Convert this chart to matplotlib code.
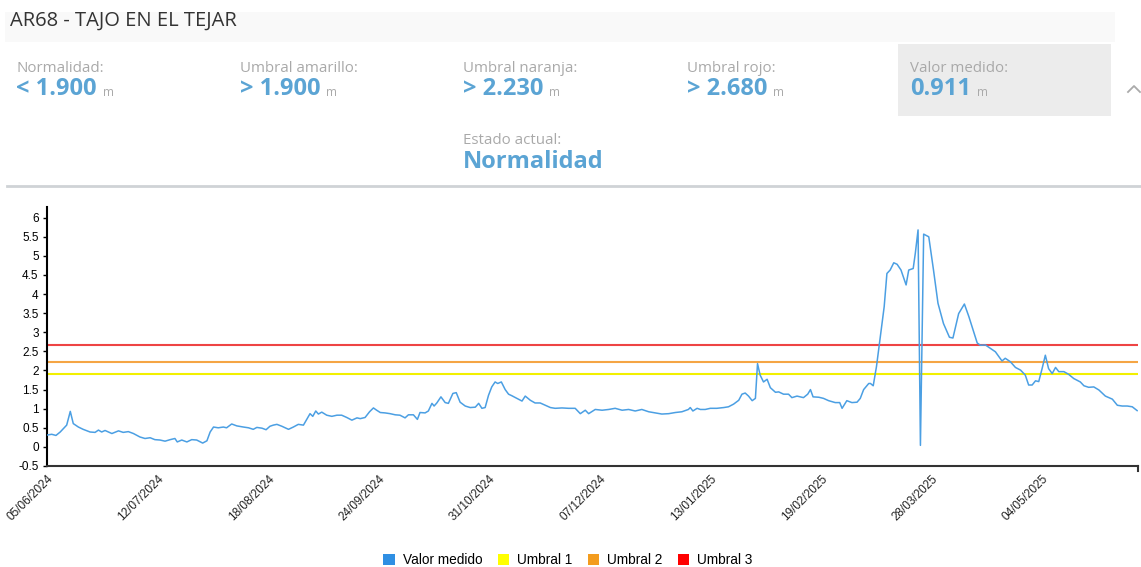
import matplotlib
matplotlib.use("Agg")
import matplotlib.pyplot as plt
from matplotlib.patches import Rectangle, Patch
from matplotlib.lines import Line2D
import numpy as np
import datetime as dt

# ---------------- data ----------------
start_date = "2024-06-05"
end_date = "2025-06-05"
tick_dates = ["05/06/2024", "12/07/2024", "18/08/2024", "24/09/2024", "31/10/2024",
              "07/12/2024", "13/01/2025", "19/02/2025", "28/03/2025", "04/05/2025"]

# day offsets since start_date, and measured values (m)
days = [0.0, 1.6, 3.0, 4.4, 6.6, 7.8, 8.8, 10.5, 12.1, 14.4, 16.1, 17.2, 18.3, 19.4, 21.7,
        23.9, 25.5, 27.2, 28.9, 31.1, 32.8, 34.5, 36.1, 37.8, 39.5, 41.2, 42.8, 43.6, 45.1,
        46.8, 48.4, 50.1, 52.1, 53.5, 54.6, 55.7, 57.3, 59.0, 60.1, 61.8, 63.5, 65.7, 67.4,
        69.0, 70.2, 71.9, 73.3, 74.6, 75.7, 76.9, 78.6, 80.8, 82.4, 84.1, 85.8, 86.9, 88.0,
        88.9, 89.9, 90.8, 91.9, 93.6, 95.3, 97.0, 98.6, 100.3, 102.0, 103.7, 104.8, 106.4,
        107.9, 109.2, 110.3, 111.5, 113.1, 114.8, 116.5, 118.1, 119.8, 120.9, 122.6, 123.9,
        124.8, 126.5, 127.6, 128.8, 129.5, 130.4, 131.8, 133.2, 134.3, 135.8, 136.9, 138.2,
        139.9, 141.6, 143.3, 144.4, 145.5, 146.6, 147.7, 148.8, 149.9, 150.8, 152.0, 153.3,
        154.4, 155.5, 157.2, 158.9, 160.0, 161.7, 163.3, 165.0, 166.7, 168.4, 170.0, 172.3,
        174.5, 176.7, 178.4, 180.1, 181.2, 183.4, 185.7, 187.9, 190.1, 192.4, 194.6, 196.8,
        199.0, 201.3, 203.5, 205.7, 208.0, 210.2, 212.4, 214.6, 215.2, 216.1, 217.5, 218.6,
        220.2, 221.9, 224.1, 226.4, 228.0, 229.7, 231.4, 232.5, 233.6, 234.7, 235.9, 237.0,
        237.7, 238.6, 239.7, 240.9, 242.0, 243.7, 244.8, 246.4, 248.1, 249.2, 250.9, 253.1,
        254.5, 255.4, 256.3, 258.2, 259.8, 261.5, 263.7, 265.2, 266.0, 267.6, 269.3, 271.0,
        272.1, 273.2, 274.9, 275.5, 276.4, 277.5, 278.8, 280.1, 281.0, 282.1, 283.3, 284.4,
        285.7, 287.4, 288.3, 289.8, 290.5, 291.4, 292.2, 293.3, 295.0, 296.6, 298.1, 299.9,
        301.9, 303.1, 305.0, 306.9, 308.4, 309.5, 311.2, 312.3, 313.9, 315.6, 317.3, 319.5,
        320.6, 322.3, 324.0, 325.7, 327.3, 328.4, 329.6, 330.7, 331.8, 332.9, 334.0, 335.1,
        336.3, 337.4, 338.5, 340.2, 341.8, 343.5, 345.7, 346.9, 348.5, 350.2, 351.9, 354.1,
        356.4, 358.1, 359.7, 361.4, 363.1, 364.7]
values = [0.31, 0.33, 0.30, 0.39, 0.57, 0.93, 0.61, 0.52, 0.46, 0.39, 0.38, 0.44, 0.39, 0.43, 0.35,
          0.42, 0.38, 0.40, 0.35, 0.26, 0.22, 0.24, 0.19, 0.18, 0.15, 0.19, 0.22, 0.13, 0.18,
          0.13, 0.19, 0.18, 0.10, 0.16, 0.39, 0.52, 0.50, 0.52, 0.50, 0.60, 0.55, 0.52, 0.50,
          0.46, 0.51, 0.49, 0.45, 0.54, 0.57, 0.59, 0.54, 0.46, 0.52, 0.59, 0.57, 0.72, 0.87,
          0.80, 0.94, 0.86, 0.91, 0.83, 0.80, 0.83, 0.83, 0.77, 0.70, 0.76, 0.74, 0.77,
          0.92, 1.02, 0.96, 0.90, 0.89, 0.87, 0.84, 0.83, 0.76, 0.84, 0.84, 0.72,
          0.90, 0.89, 0.94, 1.14, 1.07, 1.15, 1.31, 1.16, 1.14, 1.40, 1.42, 1.17,
          1.07, 1.03, 1.04, 1.14, 1.01, 1.03, 1.35, 1.57, 1.70, 1.66, 1.70, 1.50,
          1.38, 1.34, 1.27, 1.20, 1.33, 1.22, 1.15, 1.15, 1.09, 1.03, 1.01, 1.02,
          1.01, 1.01, 0.87, 0.96, 0.87, 0.98, 0.96, 0.98, 1.01, 0.96, 0.98, 0.94,
          0.98, 0.92, 0.89, 0.86, 0.87, 0.90, 0.92, 0.98, 1.03, 0.94, 1.01, 0.98,
          0.98, 1.01, 1.01, 1.03, 1.05, 1.12, 1.22, 1.38, 1.41, 1.33, 1.21, 1.27,
          2.18, 1.88, 1.70, 1.77, 1.55, 1.43, 1.44, 1.38, 1.38, 1.29, 1.33, 1.29,
          1.38, 1.50, 1.31, 1.30, 1.27, 1.21, 1.16, 1.16, 1.01, 1.21, 1.16, 1.17,
          1.27, 1.50, 1.66, 1.66, 1.60, 2.10, 2.88, 3.67, 4.54, 4.63, 4.82, 4.78,
          4.63, 4.24, 4.63, 4.67, 5.07, 5.68, 0.04, 5.57, 5.50, 4.63, 3.76, 3.23,
          2.87, 2.85, 3.49, 3.74, 3.41, 3.14, 2.72, 2.66, 2.67, 2.58, 2.49, 2.25,
          2.32, 2.23, 2.08, 2.01, 1.88, 1.62, 1.62, 1.73, 1.71, 2.05, 2.40, 2.05,
          1.92, 2.08, 1.97, 1.97, 1.90, 1.79, 1.70, 1.60, 1.56, 1.57, 1.49, 1.33,
          1.25, 1.09, 1.07, 1.07, 1.05, 0.95]

threshold_names = ["Umbral 1", "Umbral 2", "Umbral 3"]
threshold_values = [1.900, 2.230, 2.680]

header_labels = ["Normalidad:", "Umbral amarillo:", "Umbral naranja:", "Umbral rojo:", "Valor medido:"]
header_values = ["< 1.900", "> 1.900", "> 2.230", "> 2.680", "0.911"]
station_title = "AR68 - TAJO EN EL TEJAR"
estado_label = "Estado actual:"
estado_value = "Normalidad"

# ---------------- styles ----------------
W, H = 1141, 567
BLUE_TXT = "#5ba4d4"
GRAY_TXT = "#a9a9a9"
LINE_BLUE = "#4b9fe3"
THR_COLORS = ["#f2f000", "#f5a544", "#ee4444"]
LEG_COLORS = ["#2f8fe3", "#ffff00", "#f39c1e", "#ff0000"]
HFONT = ["Open Sans", "DejaVu Sans"]
AFONT = ["Liberation Sans", "DejaVu Sans"]

fig = plt.figure(figsize=(W / 100, H / 100), dpi=100)
fig.patch.set_facecolor("white")


def fx(x):
    return x / W


def fy(y):
    return 1 - y / H


# title band
fig.patches.append(Rectangle((fx(5), fy(42)), fx(1115) - fx(5), fy(12) - fy(42),
                             transform=fig.transFigure, facecolor="#f9f9f9", edgecolor="none", zorder=0))
fig.text(fx(10), fy(21), station_title, fontsize=14.5, color="#333333", family=HFONT,
         ha="left", va="center")

# Valor medido box
fig.patches.append(Rectangle((fx(898), fy(116)), fx(1111) - fx(898), fy(44) - fy(116),
                             transform=fig.transFigure, facecolor="#ececec", edgecolor="none", zorder=0))

xs = [16, 240, 463, 687, 910]
for x, lab, val in zip(xs, header_labels, header_values):
    fig.text(fx(x), fy(68), lab, fontsize=10.8, color=GRAY_TXT, family=HFONT, ha="left", va="center")
    t = fig.text(fx(x), fy(89), val, fontsize=17, color=BLUE_TXT, family=HFONT,
                 fontweight="bold", ha="left", va="center")
    fig.canvas.draw()
    bb = t.get_window_extent()
    fig.text(bb.x1 / W + fx(6), fy(93), "m", fontsize=8.5, color=GRAY_TXT, family=HFONT,
             ha="left", va="center")

# chevron (collapse arrow)
fig.add_artist(Line2D([fx(1128), fx(1134), fx(1140)], [fy(92), fy(86), fy(92)],
                      transform=fig.transFigure, color="#aaaaaa", linewidth=1.3))

fig.text(fx(463), fy(141), estado_label, fontsize=10.8, color=GRAY_TXT, family=HFONT, ha="left", va="center")
fig.text(fx(463), fy(162), estado_value, fontsize=17, color=BLUE_TXT, family=HFONT,
         fontweight="bold", ha="left", va="center")

# separator
fig.add_artist(Line2D([fx(7), fx(1140)], [fy(186), fy(186)], transform=fig.transFigure,
                      color="#cfd3d6", linewidth=2))

# ---------------- chart ----------------
ax = fig.add_axes([fx(47), fy(466), fx(1138) - fx(47), fy(207) - fy(466)])
start = np.datetime64(start_date)
x_dates = start + np.array([np.timedelta64(int(round(d * 24)), "h") for d in days])
ax.plot(x_dates, values, color=LINE_BLUE, linewidth=1.1, zorder=3)

xmin = np.datetime64(start_date)
xmax = np.datetime64(end_date)
for v, c in zip(threshold_values, THR_COLORS):
    ax.plot([xmin, xmax], [v, v], color=c, linewidth=1.5, zorder=2)

ax.set_xlim(xmin, xmax)
ax.set_ylim(-0.5, 6.28)
yt = np.arange(-0.5, 6.01, 0.5)
ax.set_yticks(yt)
ax.set_yticklabels([("%g" % v) for v in yt])

tick_pos = [dt.datetime.strptime(s, "%d/%m/%Y") for s in tick_dates]
ax.set_xticks(tick_pos)
ax.set_xticklabels(tick_dates, rotation=45, ha="right", rotation_mode="anchor")

for s in ["top", "right"]:
    ax.spines[s].set_visible(False)
ax.spines["left"].set_color("black")
ax.spines["left"].set_linewidth(1.5)
ax.spines["bottom"].set_color("#333333")
ax.spines["bottom"].set_linewidth(1.5)

ax.tick_params(axis="y", length=3, width=1, labelsize=8.5, pad=3, colors="black")
ax.tick_params(axis="x", length=0, labelsize=8.5, pad=5, labelcolor="#222222")
for lab in ax.get_xticklabels() + ax.get_yticklabels():
    lab.set_family(AFONT)

# end tick at the right of x axis
ax.plot([1, 1], [0, -0.02], transform=ax.transAxes, color="#333333", linewidth=1.5, clip_on=False)

# legend
handles = [Patch(facecolor=c, edgecolor="none") for c in LEG_COLORS]
labels = ["Valor medido"] + threshold_names
fig.legend(handles, labels, loc="center", bbox_to_anchor=(fx(568), fy(560)), ncol=4,
           frameon=False, handlelength=0.85, handleheight=0.85, handletextpad=0.6,
           columnspacing=1.1, prop={"family": AFONT, "size": 9.8})

fig.savefig("out.png", dpi=100, facecolor="white")
